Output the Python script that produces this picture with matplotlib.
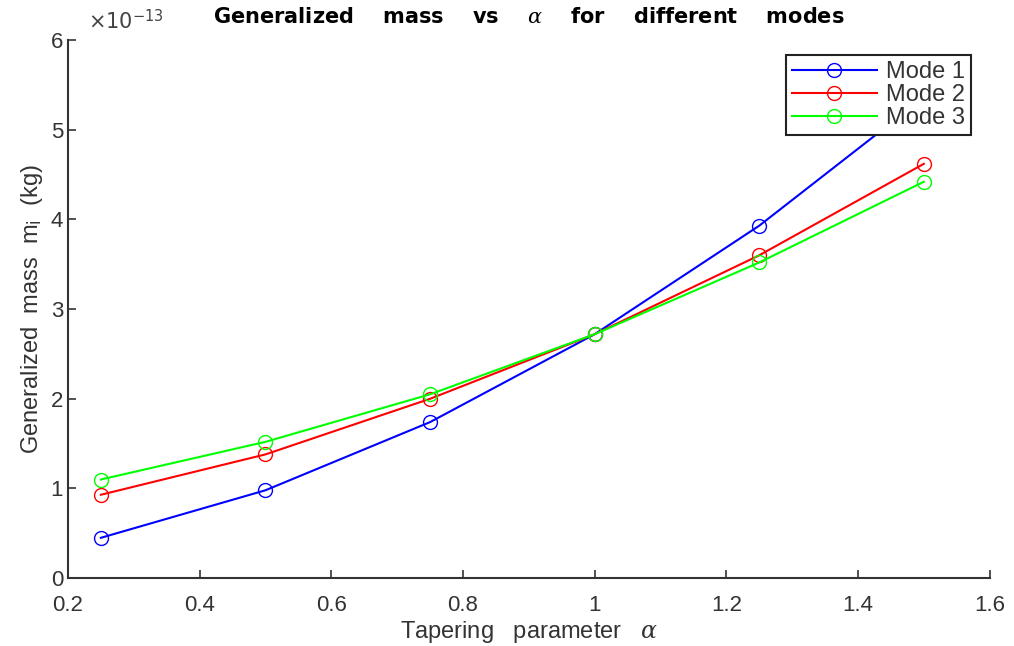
import matplotlib
matplotlib.use("Agg")
import matplotlib.pyplot as plt

alpha = [0.25, 0.5, 0.75, 1.0, 1.25, 1.5]
mode1 = [0.45e-13, 0.98e-13, 1.74e-13, 2.72e-13, 3.93e-13, 5.36e-13]
mode2 = [0.93e-13, 1.38e-13, 2.00e-13, 2.72e-13, 3.60e-13, 4.62e-13]
mode3 = [1.10e-13, 1.52e-13, 2.05e-13, 2.72e-13, 3.52e-13, 4.42e-13]
labels = ["Mode 1", "Mode 2", "Mode 3"]
colors = ["#0000ff", "#ff0000", "#00ff00"]
scale = 1e-13

plt.rcParams["font.family"] = ["Liberation Sans Narrow", "Liberation Sans", "DejaVu Sans"]
plt.rcParams["mathtext.fontset"] = "custom"
plt.rcParams["mathtext.rm"] = "Liberation Sans Narrow"
plt.rcParams["mathtext.it"] = "DejaVu Serif:italic"

fig = plt.figure(figsize=(10.14, 6.46), dpi=100)
ax = fig.add_axes([0.067, 0.105, 0.909, 0.833])

for ys, lab, c in zip([mode1, mode2, mode3], labels, colors):
    ax.plot(alpha, [v / scale for v in ys], color=c, marker="o", markerfacecolor="none",
            markersize=10, linewidth=1.5, label=lab)

ax.set_xlim(0.2, 1.6)
ax.set_ylim(0, 6)
ax.set_xticks([0.2, 0.4, 0.6, 0.8, 1.0, 1.2, 1.4, 1.6])
ax.set_xticklabels(["0.2", "0.4", "0.6", "0.8", "1", "1.2", "1.4", "1.6"])
ax.set_yticks(range(7))

for s in ["top", "right"]:
    ax.spines[s].set_visible(False)
for s in ["left", "bottom"]:
    ax.spines[s].set_color("#333333")
    ax.spines[s].set_linewidth(1.5)
ax.tick_params(direction="in", length=6, width=1.2, labelsize=16,
               labelcolor="#333333", color="#333333")
ax.tick_params(axis="x", pad=12)

# scale factor drawn like matlab's exponent label
ax.text(0.022, 1.012, r"$\times10^{-13}$", transform=ax.transAxes, fontsize=15,
        color="#444444", va="bottom", ha="left")

ax.set_xlabel(r"Tapering   parameter   $\alpha$", fontsize=17, color="#333333", labelpad=2)
ax.set_ylabel(r"Generalized  mass  m$_\mathrm{i}$  (kg)", fontsize=17, color="#333333")
ax.set_title(r"Generalized    mass    vs    $\alpha$    for    different    modes",
             fontsize=15, fontweight="bold", family="DejaVu Sans", pad=12)

leg = ax.legend(loc="upper right", fontsize=17, fancybox=False, edgecolor="#222222",
                framealpha=1, borderpad=0.25, labelspacing=0.05, handlelength=3.6,
                handletextpad=0.4, borderaxespad=0, bbox_to_anchor=(0.98, 0.972))
leg.get_frame().set_linewidth(1.5)
for t in leg.get_texts():
    t.set_color("#333333")

fig.savefig("out.png", dpi=100)
